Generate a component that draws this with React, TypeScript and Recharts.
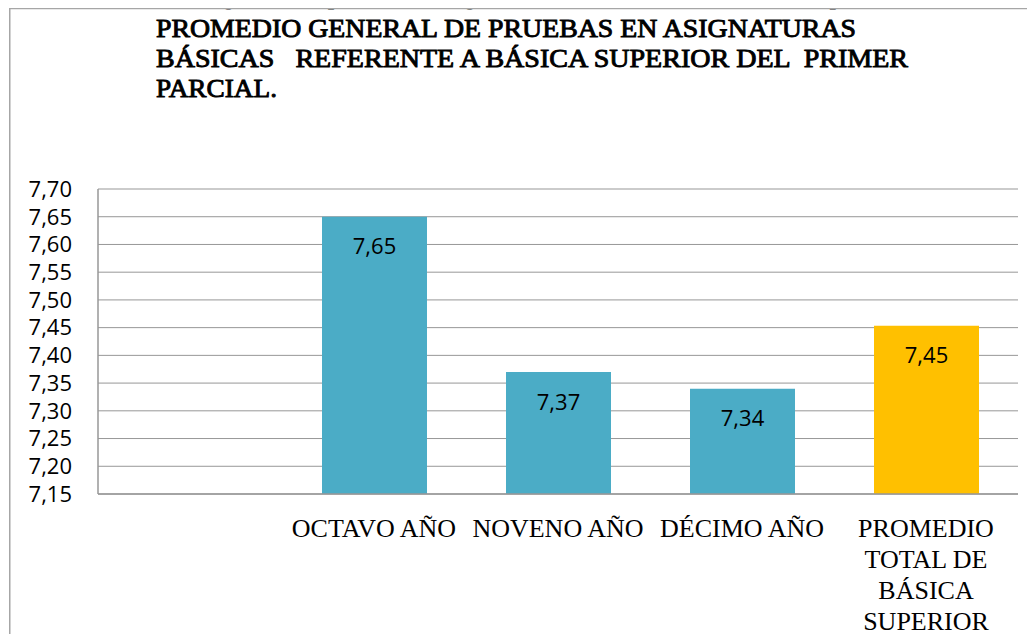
import { BarChart, Bar, XAxis, YAxis, CartesianGrid, Cell, LabelList } from "recharts";

// data (first category is an empty slot in the original)
const categories = ["", "OCTAVO AÑO", "NOVENO AÑO", "DÉCIMO AÑO", "PROMEDIO TOTAL DE BÁSICA SUPERIOR"];
const promedios: (number | null)[] = [null, 7.65, 7.37, 7.34, 7.4533];
const yTicks = [7.15, 7.2, 7.25, 7.3, 7.35, 7.4, 7.45, 7.5, 7.55, 7.6, 7.65, 7.7];

const caption =
  "Gráfico 32. Promedio general de pruebas en asignaturas básicas referente a Básica Superior";
const titleLines = [
  "PROMEDIO GENERAL DE PRUEBAS EN ASIGNATURAS",
  "BÁSICAS   REFERENTE A BÁSICA SUPERIOR DEL  PRIMER",
  "PARCIAL.",
];
// measured widths of the title lines in the reference
const titleWidths = [700, 752, 121];

const data = categories.map((name, i) => ({ name, promedio: promedios[i] }));
const totalName = categories[categories.length - 1];

const SERIF = "Liberation Serif, Times New Roman, serif";
const SANS = "Open Sans, Noto Sans, sans-serif";
const TEAL = "#4BACC6";
const GOLD = "#FFC000";
const GRID = "#979797";

const fmt = (v: unknown) => (typeof v === "number" ? v.toFixed(2).replace(".", ",") : "");

// greedy word wrap, like Excel does for long category names
const wrap = (s: string, max = 10) => {
  const lines: string[] = [];
  let cur = "";
  for (const w of s.split(" ")) {
    const next = cur ? cur + " " + w : w;
    if (next.length > max && cur) {
      lines.push(cur);
      cur = w;
    } else cur = next;
  }
  if (cur) lines.push(cur);
  return lines;
};

const CategoryTick = (props: any) => {
  const { x, y, payload } = props;
  const lines = wrap(String(payload.value ?? ""));
  return (
    <text x={x} y={y} textAnchor="middle" fill="#000" fontFamily={SERIF} fontSize={26}>
      {lines.map((l, i) => (
        <tspan key={i} x={x} y={y + 41 + i * 31}>
          {l}
        </tspan>
      ))}
    </text>
  );
};

export default function App() {
  return (
    <div
      style={{
        position: "relative",
        width: 1035,
        height: 642,
        margin: -8,
        overflow: "hidden",
        background: "#fff",
      }}
    >
      <svg width={1035} height={120} style={{ position: "absolute", left: 0, top: 0 }}>
        {/* no bold serif face installed: fake it with a thin stroke */}
        <text
          x={8}
          y={4}
          fontFamily={SERIF}
          fontSize={24}
          fill="#000"
          stroke="#000"
          strokeWidth={0.8}
        >
          {caption}
        </text>
        <line x1={9} y1={8.5} x2={1035} y2={8.5} stroke="#a6a6a6" strokeWidth={1.5} />
        {titleLines.map((l, i) => (
          <text
            key={l}
            x={156}
            y={37 + i * 30}
            fontFamily={SERIF}
            fontSize={26}
            fill="#000"
            stroke="#000"
            strokeWidth={0.9}
            textLength={titleWidths[i]}
            lengthAdjust="spacingAndGlyphs"
            style={{ whiteSpace: "pre" }}
          >
            {l}
          </text>
        ))}
      </svg>
      <svg width={2} height={642} style={{ position: "absolute", left: 9, top: 8 }}>
        <line x1={0.75} y1={0} x2={0.75} y2={642} stroke="#a6a6a6" strokeWidth={1.5} />
      </svg>
      <div style={{ position: "absolute", left: 0, top: 0 }}>
        <BarChart
          width={1035}
          height={642}
          data={data}
          margin={{ top: 189, right: 17, bottom: 8, left: 0 }}
          barSize={105}
        >
          <CartesianGrid vertical={false} stroke={GRID} strokeWidth={1} />
          <XAxis
            dataKey="name"
            height={140}
            interval={0}
            tickLine={false}
            tickSize={0}
            axisLine={{ stroke: GRID, strokeWidth: 1.5 }}
            tick={(p: any) => <CategoryTick {...p} />}
          />
          <YAxis
            type="number"
            width={98}
            domain={[7.15, 7.7]}
            ticks={yTicks}
            interval={0}
            allowDataOverflow
            tickLine={false}
            tickSize={0}
            tickMargin={26}
            axisLine={{ stroke: GRID, strokeWidth: 1.5 }}
            tickFormatter={fmt}
            tick={{ fontFamily: SANS, fontSize: 22, fill: "#000" }}
          />
          <Bar dataKey="promedio" isAnimationActive={false}>
            {data.map((d) => (
              <Cell key={d.name || "vacio"} fill={d.name === totalName ? GOLD : TEAL} />
            ))}
            <LabelList
              dataKey="promedio"
              position="insideTop"
              offset={22}
              formatter={fmt}
              style={{ fontFamily: SANS, fontSize: 22, fill: "#000" }}
            />
          </Bar>
        </BarChart>
      </div>
    </div>
  );
}
